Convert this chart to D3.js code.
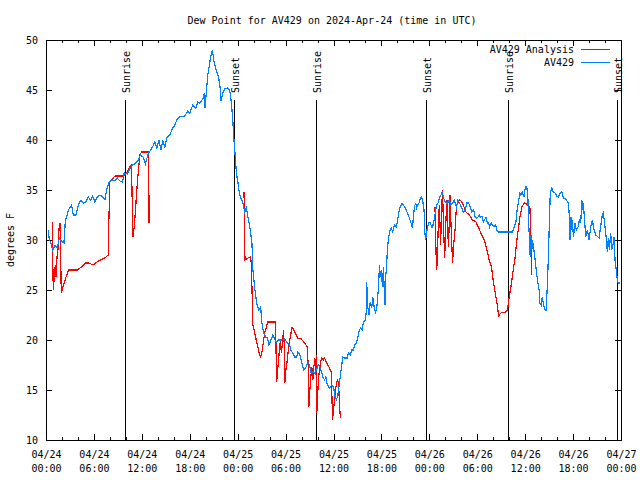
<!DOCTYPE html>
<html><head><meta charset="utf-8">
<script src="https://cdn.jsdelivr.net/npm/d3@7"></script>
<style>
body{margin:0;background:#fff;}
text{font-family:"DejaVu Sans Mono",monospace;font-size:10px;fill:#000;}
</style></head>
<body>
<svg id="chart" width="640" height="480"></svg>
<script>
// ---- data (hours after 2024-04-24 00:00 UTC, dew point in °F) ----
const startUTC = Date.UTC(2024, 3, 24, 0, 0);
const endUTC = Date.UTC(2024, 3, 27, 0, 0);

const av429Hours = [0.29,0.41,0.59,0.84,1.13,1.41,1.66,1.96,2.25,2.41,2.79,3.21,3.41,3.75,4.04,4.38,4.66,5.0,5.29,5.59,5.84,6.13,6.41,6.75,7.09,7.38,7.59,7.91,8.25,8.63,8.91,9.25,9.59,9.79,10.16,10.5,10.84,11.25,11.54,11.84,12.16,12.44,12.79,13.34,13.63,13.88,14.16,14.38,14.63,14.88,15.13,15.5,15.88,16.13,16.38,16.75,17.38,17.75,18.0,18.38,18.75,19.0,19.25,19.63,19.84,19.91,20.13,20.29,20.5,20.71,20.84,21.0,21.16,21.38,21.63,21.79,21.91,22.13,22.38,22.75,23.0,23.13,23.29,23.41,23.54,23.66,23.84,24.04,24.25,24.5,24.66,24.88,25.09,25.29,25.54,25.79,25.88,26.13,26.38,26.63,26.79,26.88,27.04,27.25,27.5,27.75,27.91,28.16,28.41,28.66,28.88,29.13,29.5,29.88,30.25,30.5,30.66,30.88,31.13,31.38,31.54,31.79,32.0,32.25,32.5,32.66,32.79,33.0,33.16,33.38,33.63,33.88,34.09,34.29,34.5,34.66,34.88,35.04,35.16,35.38,35.54,35.75,36.0,36.21,36.38,36.59,36.79,37.0,37.16,37.41,37.71,37.88,38.09,38.29,38.5,38.66,38.88,39.04,39.25,39.41,39.59,39.75,40.0,40.09,40.16,40.29,40.46,40.59,40.79,40.91,41.09,41.25,41.41,41.54,41.66,41.75,41.88,42.0,42.13,42.25,42.38,42.46,42.54,42.63,42.75,42.88,43.09,43.25,43.41,43.63,43.84,44.0,44.16,44.34,44.59,44.75,45.0,45.25,45.5,45.71,45.88,46.0,46.13,46.29,46.41,46.54,46.71,46.88,47.04,47.21,47.34,47.41,47.54,47.63,47.79,47.96,48.13,48.29,48.41,48.59,48.75,48.91,49.09,49.25,49.46,49.59,49.75,49.88,50.09,50.29,50.5,50.71,50.91,51.13,51.38,51.59,51.79,52.0,52.25,52.5,52.71,52.91,53.13,53.34,53.54,53.75,53.91,54.09,54.25,54.41,54.59,54.75,54.91,55.09,55.25,55.41,55.54,55.75,55.91,56.09,56.29,56.46,56.63,58.41,58.63,58.84,58.96,59.13,59.34,59.46,59.63,59.84,59.96,60.09,60.21,60.34,60.41,60.5,60.63,60.75,60.84,60.91,61.04,61.21,61.38,61.59,61.75,61.84,62.0,62.13,62.25,62.38,62.5,62.63,62.75,62.88,63.0,63.13,63.29,63.5,63.75,63.96,64.16,64.38,64.59,64.79,65.09,65.41,65.54,65.63,65.75,65.84,65.91,66.04,66.25,66.41,66.63,66.79,66.96,67.09,67.21,67.29,67.46,67.59,67.79,68.0,68.21,68.41,68.63,68.84,69.25,69.66,69.79,70.09,70.29,70.41,70.54,70.71,70.84,71.0,71.13,71.25,71.41,71.54,71.66,71.9];
const av429Dew = [31.0,30.0,29.8,29.0,29.5,29.2,30.2,29.9,29.7,31.8,33.0,33.5,32.5,32.5,33.5,34.0,33.7,33.8,34.3,34.0,34.4,33.8,34.3,34.5,34.3,34.0,35.0,35.8,36.0,35.9,36.2,35.9,35.8,36.7,36.6,37.1,37.5,37.7,38.0,38.5,38.3,37.6,38.6,39.3,39.8,39.2,40.0,39.0,39.9,39.3,40.2,40.5,41.2,41.5,42.0,42.3,42.4,42.9,42.7,43.5,43.2,43.8,43.7,44.1,44.7,43.2,45.3,46.7,47.7,48.7,49.0,48.0,47.5,46.8,46.2,45.3,43.9,44.7,45.1,45.2,45.0,44.3,43.0,41.7,40.0,38.7,36.7,35.7,34.5,34.0,33.7,32.8,33.2,32.3,31.2,29.7,27.2,25.2,23.7,23.0,23.2,23.3,21.7,20.7,20.3,20.2,19.5,20.0,20.5,20.0,19.8,20.0,20.0,20.1,19.7,19.5,19.0,18.7,18.3,18.3,18.8,18.5,17.8,17.0,17.2,17.5,17.8,17.5,16.8,16.8,16.7,17.0,17.5,17.3,16.8,16.3,16.0,16.3,15.7,15.3,15.2,15.5,15.3,14.3,14.0,14.7,16.0,17.3,18.3,18.2,18.2,18.7,18.5,19.0,19.0,19.5,19.7,20.3,21.0,21.2,21.0,21.8,22.0,22.8,25.8,23.3,22.5,23.8,23.2,24.3,23.3,22.8,23.2,24.3,25.7,27.5,26.3,27.0,25.3,27.3,24.3,23.5,26.3,27.3,29.0,30.2,31.0,31.2,30.8,31.5,31.3,31.8,32.7,33.3,33.7,33.5,33.2,32.7,32.2,31.7,31.2,32.2,33.3,33.7,33.2,33.5,33.7,34.2,34.3,33.7,33.0,31.0,30.0,30.7,31.3,31.8,31.7,31.3,31.3,32.0,32.7,33.5,33.7,34.2,34.5,34.8,34.3,34.0,33.7,33.7,34.0,33.5,33.7,34.0,33.3,34.0,33.7,33.3,32.8,33.0,33.7,33.7,33.3,32.8,33.0,32.3,32.2,32.3,32.5,32.3,32.4,31.8,32.0,32.3,31.7,31.7,31.3,31.7,31.5,31.3,31.5,31.0,30.8,30.8,31.3,31.8,32.8,33.7,34.7,34.5,34.8,34.3,35.0,35.3,35.3,34.3,32.3,30.7,28.3,30.5,29.0,30.0,29.3,28.3,27.0,25.7,25.0,23.7,23.5,24.3,23.8,23.3,23.0,23.0,25.0,27.7,31.0,34.3,35.3,34.8,34.7,34.4,34.3,34.7,34.8,34.2,34.1,33.7,32.3,30.0,32.3,31.0,32.0,30.3,31.7,31.0,31.3,32.0,31.7,34.0,33.0,33.7,31.7,30.3,31.0,30.0,31.3,32.0,31.0,30.5,30.2,32.5,32.7,30.7,28.8,30.2,29.0,30.7,29.0,29.5,30.3,28.0,27.0,26.0,25.7,25.7];

// null marks a break in the analysis line
const analysisHours = [0.79,0.84,0.91,1.04,1.16,1.25,1.38,1.54,1.63,1.75,1.84,1.91,2.16,2.5,2.84,3.41,3.91,4.46,4.96,5.38,5.91,6.54,7.09,7.5,7.79,7.88,8.0,8.63,9.75,10.09,10.5,10.71,10.79,10.91,11.04,11.21,11.34,11.54,11.75,11.96,12.79,12.88,12.91,
  null,
  24.79,24.88,24.91,25.29,25.63,25.75,25.79,25.91,26.13,26.41,26.66,26.88,27.04,27.16,27.38,27.59,27.79,28.75,28.79,28.88,29.0,29.13,29.25,29.38,29.46,29.59,29.75,29.84,29.91,30.04,30.21,30.38,30.5,30.63,30.75,30.91,31.13,31.54,31.96,32.38,32.71,32.88,32.91,33.04,33.16,33.29,33.41,33.54,33.66,33.84,33.88,33.91,34.0,34.09,34.21,34.38,34.54,34.71,34.88,35.09,35.29,35.5,35.71,35.79,35.88,36.0,36.13,36.25,36.38,36.54,36.66,36.75,36.88,
  null,
  48.71,48.84,48.91,49.0,49.09,49.16,49.25,49.34,49.41,49.5,49.59,49.66,49.75,49.84,49.91,50.0,50.09,50.21,50.29,50.38,50.5,50.59,50.66,50.79,50.91,51.0,51.13,51.25,51.34,51.46,51.59,51.75,51.96,52.16,52.38,52.59,53.0,53.41,53.84,54.13,54.46,54.88,55.21,55.5,55.79,56.04,56.34,56.54,56.66,56.96,57.59,57.79,58.0,58.29,58.5,58.75,58.91,59.13,59.34,59.59,59.88,60.16,60.41,60.59,60.71,60.79];
const analysisDew = [31.8,28.3,25.0,26.3,27.5,26.3,28.3,29.3,31.1,31.7,28.3,24.7,25.4,26.3,27.0,27.0,27.0,27.3,27.7,27.7,27.5,27.9,28.1,28.3,28.5,32.2,35.8,36.4,36.4,36.7,37.3,37.5,34.0,30.3,31.3,33.0,34.7,36.7,38.5,38.8,38.8,35.3,31.7,
  null,
  34.8,31.5,28.0,28.2,28.3,27.2,25.2,21.5,20.7,19.7,18.8,18.3,18.8,19.5,20.7,21.3,21.8,21.8,19.7,15.8,17.0,18.0,19.3,20.0,18.7,19.5,21.0,19.3,15.7,17.0,18.0,19.3,20.0,20.3,21.2,21.2,20.8,20.2,20.1,19.7,19.3,16.7,13.3,15.0,16.3,17.3,16.0,17.3,18.2,16.3,18.5,12.7,14.3,15.7,16.8,17.8,18.2,18.0,18.2,17.8,17.5,17.2,16.8,14.7,12.0,13.0,14.0,15.0,15.7,16.0,15.3,13.3,12.2,
  null,
  33.3,28.7,27.0,28.0,30.7,32.0,33.5,31.5,29.5,32.0,34.0,35.0,32.0,30.0,28.2,29.7,32.3,34.0,32.0,29.3,31.7,34.5,32.7,30.0,27.7,29.0,30.3,31.3,32.7,33.5,33.7,34.0,33.9,33.7,33.2,32.8,32.5,32.0,31.8,31.3,30.7,30.0,29.0,28.0,27.3,25.7,24.3,23.3,22.4,22.7,22.8,23.0,24.3,25.7,27.0,28.3,29.7,31.0,32.3,33.3,33.7,33.6,33.4,33.3,30.3,26.5];

const sunHours = [9.93, 23.58, 33.85, 47.62, 57.89, 71.54];
const sunLabels = ["Sunrise", "Sunset", "Sunrise", "Sunset", "Sunrise", "Sunset"];
const yTicks = [10, 15, 20, 25, 30, 35, 40, 45, 50];
const seriesNames = ["AV429 Analysis", "AV429"];
const seriesColors = ["#ff0000", "#0080ff"];
const titleText = "Dew Point for AV429 on 2024-Apr-24 (time in UTC)";
const yLabel = "degrees F";

// ---- layout ----
const L = 46, R = 621, T = 40, B = 440;
const svg = d3.select("#chart");
const toDate = h => new Date(startUTC + h * 3600e3);

const x = d3.scaleUtc().domain([new Date(startUTC), new Date(endUTC)]).range([L, R]);
const y = d3.scaleLinear().domain([10, 50]).range([B, T]);

const majorTimes = d3.utcHour.every(6).range(new Date(startUTC), new Date(endUTC + 1));
const minorTimes = d3.utcHour.every(2).range(new Date(startUTC), new Date(endUTC + 1));

// minor ticks bottom/top
svg.append("g").attr("transform", `translate(0,${B})`)
  .call(d3.axisBottom(x).tickValues(minorTimes).tickSize(-3).tickFormat(""))
  .call(g => g.select(".domain").remove());
svg.append("g").attr("transform", `translate(0,${T})`)
  .call(d3.axisTop(x).tickValues(minorTimes).tickSize(-3).tickFormat(""))
  .call(g => g.select(".domain").remove());
// major ticks top
svg.append("g").attr("transform", `translate(0,${T})`)
  .call(d3.axisTop(x).tickValues(majorTimes).tickSize(-6).tickFormat(""))
  .call(g => g.select(".domain").remove());
// major ticks bottom with labels
const fmtD = d3.utcFormat("%m/%d"), fmtT = d3.utcFormat("%H:%M");
const xAxisG = svg.append("g").attr("transform", `translate(0,${B})`)
  .call(d3.axisBottom(x).tickValues(majorTimes).tickSize(-6).tickPadding(12).tickFormat(""))
  .call(g => g.select(".domain").remove());
xAxisG.selectAll(".tick").each(function(d) {
  const t = d3.select(this).select("text").attr("y", null).attr("dy", null);
  t.append("tspan").attr("x", 0).attr("y", 18).text(fmtD(d));
  t.append("tspan").attr("x", 0).attr("y", 32).text(fmtT(d));
});

// y axis left (labels) and right
svg.append("g").attr("transform", `translate(${L},0)`)
  .call(d3.axisLeft(y).tickValues(yTicks).tickSize(-6).tickPadding(8).tickFormat(d3.format("d")))
  .call(g => g.select(".domain").remove())
  .call(g => g.selectAll("text").attr("dy", "0.35em"));
svg.append("g").attr("transform", `translate(${R},0)`)
  .call(d3.axisRight(y).tickValues(yTicks).tickSize(-6).tickFormat(""))
  .call(g => g.select(".domain").remove());

svg.selectAll(".tick line").attr("stroke", "#000").attr("shape-rendering", "crispEdges");
svg.selectAll(".tick text").attr("font-family", "DejaVu Sans Mono").attr("font-size", 10).attr("fill", "#000");

// sunrise / sunset markers
const sunG = svg.append("g");
sunHours.forEach((h, i) => {
  const sx = Math.round(x(toDate(h))) + 0.5;
  sunG.append("line").attr("x1", sx).attr("x2", sx).attr("y1", 100).attr("y2", B)
    .attr("stroke", "#000").attr("stroke-width", 1).attr("shape-rendering", "crispEdges");
  sunG.append("text").attr("transform", `translate(${sx + 4},93) rotate(-90)`)
    .attr("text-anchor", "start").text(sunLabels[i]);
});

// series
const line = d3.line()
  .defined(d => d.v !== null)
  .x(d => x(toDate(d.h)))
  .y(d => y(d.v));

const analysisData = analysisHours.map((h, i) => ({h: h, v: h === null ? null : analysisDew[i]}));
const av429Data = av429Hours.map((h, i) => ({h: h, v: av429Dew[i]}));

svg.append("path").datum(analysisData).attr("d", line)
  .attr("fill", "none").attr("stroke", seriesColors[0]).attr("stroke-width", 1.2)
  .attr("shape-rendering", "crispEdges");
svg.append("path").datum(av429Data).attr("d", line)
  .attr("fill", "none").attr("stroke", seriesColors[1]).attr("stroke-width", 1.2)
  .attr("shape-rendering", "crispEdges");

// frame
svg.append("rect").attr("x", L + 0.5).attr("y", T + 0.5).attr("width", R - L).attr("height", B - T)
  .attr("fill", "none").attr("stroke", "#000").attr("shape-rendering", "crispEdges");

// legend
seriesNames.forEach((name, i) => {
  const ly = 49.5 + i * 13;
  svg.append("text").attr("x", 574).attr("y", ly + 3.5).attr("text-anchor", "end").text(name);
  svg.append("line").attr("x1", 581).attr("x2", 610).attr("y1", ly).attr("y2", ly)
    .attr("stroke", seriesColors[i]).attr("shape-rendering", "crispEdges");
});

// title and y label
svg.append("text").attr("x", 332).attr("y", 24).attr("text-anchor", "middle").text(titleText);
svg.append("text").attr("transform", "translate(14,240) rotate(-90)").attr("text-anchor", "middle").text(yLabel);
</script>
</body></html>
